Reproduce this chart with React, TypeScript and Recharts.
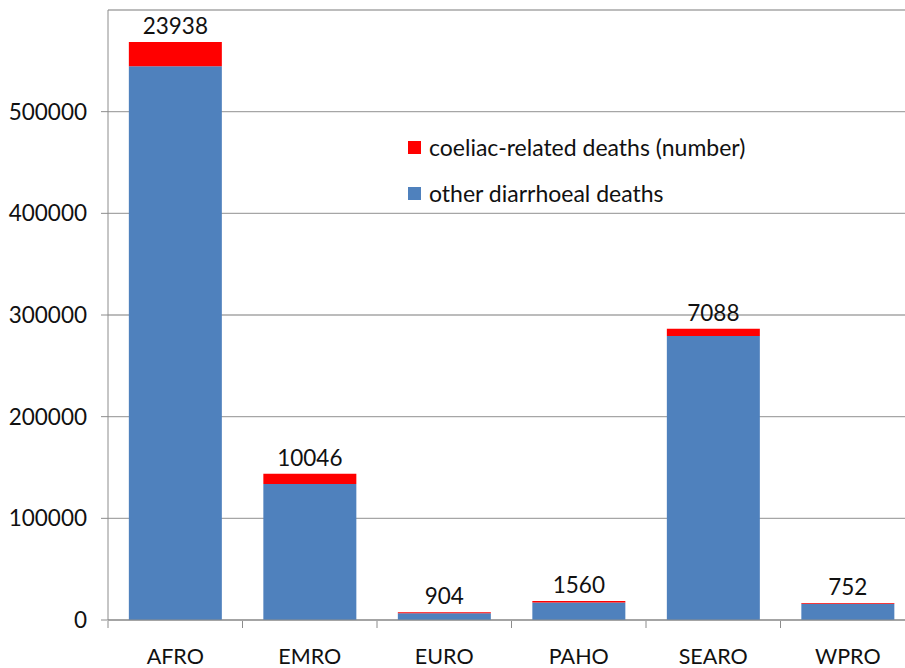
import React from "react";
import {
  BarChart,
  Bar,
  XAxis,
  YAxis,
  CartesianGrid,
  Legend,
  LabelList,
} from "recharts";

const regions = ["AFRO", "EMRO", "EURO", "PAHO", "SEARO", "WPRO"];
const otherDeaths = [544700, 133700, 6700, 17100, 279300, 16000];
const coeliacDeaths = [23938, 10046, 904, 1560, 7088, 752];
const yTicks = [0, 100000, 200000, 300000, 400000, 500000];
const legendOrder = ["coeliac", "other"];

const data = regions.map((name, i) => ({
  name,
  other: otherDeaths[i],
  coeliac: coeliacDeaths[i],
}));

const FONT = "Lato, 'Liberation Sans', sans-serif";
const AXIS = "#8c8c8c";

// category ticks sit on the band boundaries, as Excel draws them
const RegionTick = (props: any) => {
  const { x, y, payload } = props;
  const half = payload && payload.offset ? payload.offset : 67;
  return (
    <g>
      <line x1={x - half} y1={y - 7} x2={x - half} y2={y} stroke={AXIS} />
      <text
        x={x}
        y={y + 36}
        textAnchor="middle"
        fontSize={21.5}
        fontFamily={FONT}
        fill="#111"
      >
        {payload.value}
      </text>
    </g>
  );
};

const LegendBox = (props: any) => {
  const items = [...(props.payload || [])].sort(
    (a: any, b: any) =>
      legendOrder.indexOf(a.dataKey) - legendOrder.indexOf(b.dataKey)
  );
  return (
    <div style={{ fontFamily: FONT, fontSize: 23, color: "#111" }}>
      {items.map((it: any) => (
        <div
          key={it.value}
          style={{ display: "flex", alignItems: "center", height: 46 }}
        >
          <span
            style={{
              width: 13,
              height: 13,
              background: it.color,
              marginRight: 8,
              display: "inline-block",
            }}
          />
          {it.value}
        </div>
      ))}
    </div>
  );
};

export default function App() {
  return (
    <div
      style={{
        position: "absolute",
        left: 0,
        top: 0,
        width: 905,
        height: 668,
        overflow: "hidden",
        background: "#fff",
      }}
    >
      <BarChart
        width={915}
        height={668}
        data={data}
        margin={{ top: 10, right: 0, bottom: 0, left: 0 }}
        barCategoryGap="15.5%"
      >
        <CartesianGrid
          vertical={false}
          stroke="#a6a6a6"
          strokeWidth={1.3}
        />
        <XAxis
          dataKey="name"
          height={48}
          axisLine={{ stroke: AXIS }}
          tickLine={false}
          interval={0}
          tick={<RegionTick />}
        />
        <YAxis
          width={108}
          domain={[0, 600000]}
          ticks={yTicks}
          interval={0}
          axisLine={{ stroke: AXIS }}
          tickLine={{ stroke: AXIS }}
          tickSize={7}
          tickMargin={14}
          tick={{ fontSize: 22.5, fontFamily: FONT, fill: "#111" }}
        />
        <Legend
          layout="vertical"
          verticalAlign="middle"
          align="center"
          content={<LegendBox />}
          wrapperStyle={{ left: 408, top: 124, width: 420 }}
        />
        <Bar
          dataKey="other"
          name="other diarrhoeal deaths"
          stackId="a"
          fill="#4F81BD"
          isAnimationActive={false}
        />
        <Bar
          dataKey="coeliac"
          name="coeliac-related deaths (number)"
          stackId="a"
          fill="#FF0000"
          isAnimationActive={false}
        >
          <LabelList
            dataKey="coeliac"
            position="top"
            offset={8}
            fontSize={22.5}
            fontFamily={FONT}
            fill="#111"
          />
        </Bar>
      </BarChart>
    </div>
  );
}
